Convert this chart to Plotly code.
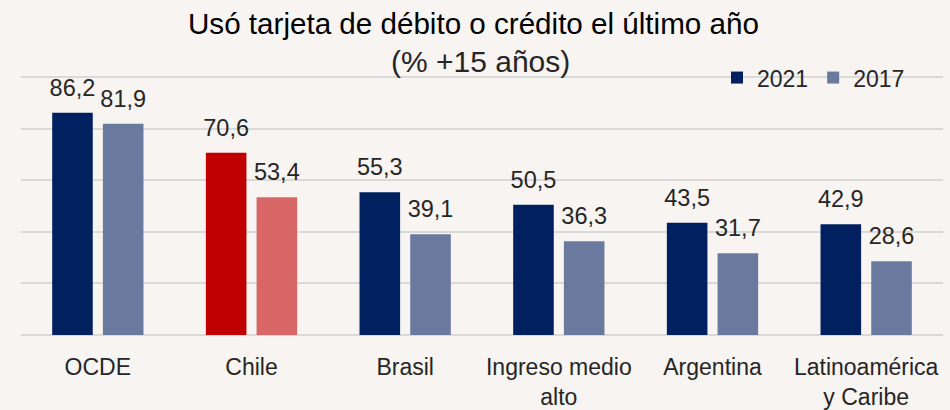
import plotly.graph_objects as go

categories = ["OCDE", "Chile", "Brasil", "Ingreso medio<br>alto", "Argentina", "Latinoamérica<br>y Caribe"]
values_2021 = [86.2, 70.6, 55.3, 50.5, 43.5, 42.9]
values_2017 = [81.9, 53.4, 39.1, 36.3, 31.7, 28.6]
colors_2021 = ["#002060", "#C00000", "#002060", "#002060", "#002060", "#002060"]
colors_2017 = ["#6A7A9E", "#D96666", "#6A7A9E", "#6A7A9E", "#6A7A9E", "#6A7A9E"]

FONT = "Liberation Sans"
TXT = "#262626"
BG = "#F7F4F1"
BARGAP = 0.34

fig = go.Figure()
fig.add_trace(go.Bar(
    name="2021", x=categories, y=values_2021,
    marker=dict(color=colors_2021, line=dict(width=0)),
))
fig.add_trace(go.Bar(
    name="2017", x=categories, y=values_2017,
    marker=dict(color=colors_2017, line=dict(width=0)),
))
# value labels (invisible markers give the label some clearance above each bar)
for vals in (values_2021, values_2017):
    fig.add_trace(go.Scatter(
        x=categories, y=vals, mode="markers+text",
        marker=dict(size=16, opacity=0),
        text=[f"{v:.1f}".replace(".", ",") for v in vals],
        textposition="top center", cliponaxis=False, showlegend=False, hoverinfo="skip",
        textfont=dict(family=FONT, size=23.5, color=TXT),
    ))

fig.update_layout(
    width=950, height=410,
    margin=dict(l=21, r=7, t=76, b=75, autoexpand=False),
    paper_bgcolor=BG, plot_bgcolor=BG,
    separators=",.",
    barmode="group", bargap=BARGAP, bargroupgap=0.2,
    scattermode="group", scattergap=BARGAP,
    font=dict(family=FONT, size=23, color=TXT),
    showlegend=True,
    legend=dict(
        orientation="h", xref="paper", yref="paper",
        x=(717 - 21) / 922, y=(335 - 78) / 258.6, xanchor="left", yanchor="middle",
        font=dict(family=FONT, size=23, color=TXT),
        bgcolor="rgba(0,0,0,0)", itemwidth=30, traceorder="normal",
    ),
    annotations=[
        dict(text="Usó tarjeta de débito o crédito el último año", xref="paper", yref="paper",
             x=0.491, y=(335 - 24) / 258.6, xanchor="center", yanchor="middle", showarrow=False,
             font=dict(family=FONT, size=29.6, color="#000000")),
        dict(text="(% +15 años)", xref="paper", yref="paper",
             x=0.498, y=(335 - 62) / 258.6, xanchor="center", yanchor="middle", showarrow=False,
             font=dict(family=FONT, size=30, color=TXT)),
    ],
)
fig.update_xaxes(showgrid=False, showline=False, ticks="", ticklabelstandoff=16, automargin=False,
                 tickfont=dict(family=FONT, size=23, color=TXT))
fig.update_yaxes(range=[0, 100.4], tickvals=[0, 20, 40, 60, 80, 100], showgrid=True,
                 gridcolor="#D9D9D9", gridwidth=2,
                 zeroline=True, zerolinecolor="#D9D9D9", zerolinewidth=2, automargin=False,
                 showticklabels=False, ticks="", showline=False)

fig.write_html(
    "out.html",
    config={"displayModeBar": False},
    post_script=(
        "document.body.style.margin='0';"
        "document.body.style.padding='0';"
        "document.body.style.background='" + BG + "';"
        "document.body.style.overflow='hidden';"
    ),
)
